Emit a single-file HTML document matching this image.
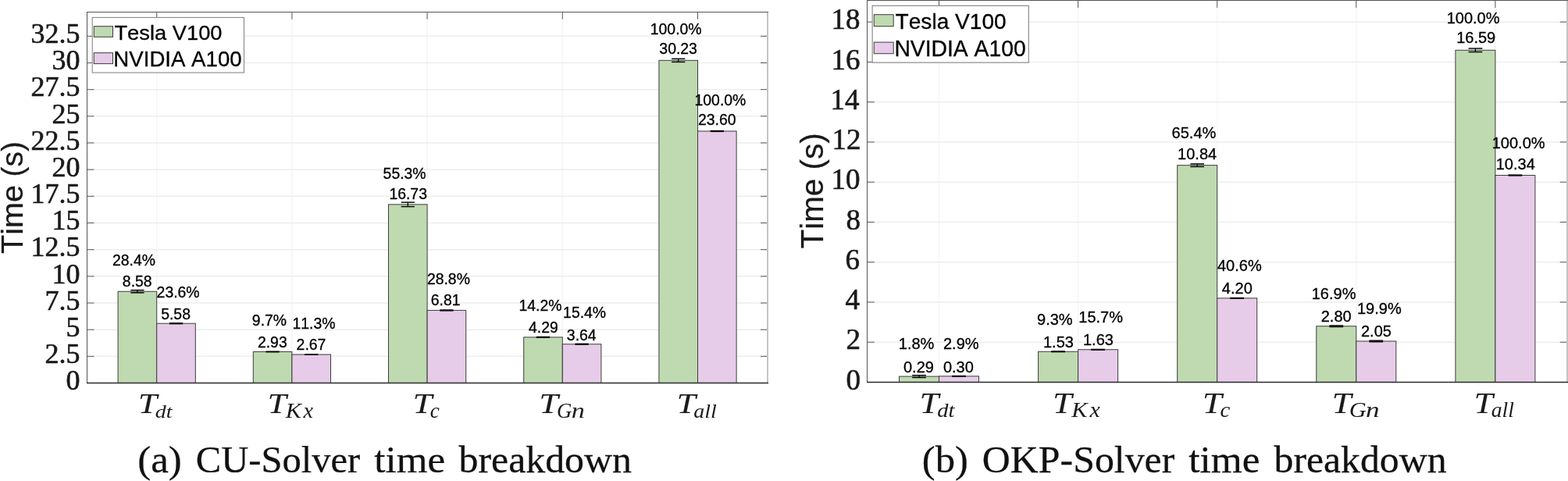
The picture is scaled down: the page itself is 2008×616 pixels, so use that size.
<!DOCTYPE html>
<html><head><meta charset="utf-8"><title>Solver time breakdown</title>
<style>html,body{margin:0;padding:0;background:#fff;overflow:hidden}svg{display:block}</style></head>
<body>
<svg width="2008" height="616" viewBox="0 0 2008 616">
<rect width="2008" height="616" fill="#fff"/>
<line x1="200.70" y1="15.50" x2="200.70" y2="490.50" stroke="#f5f5f5" stroke-width="1.5"/>
<line x1="373.90" y1="15.50" x2="373.90" y2="490.50" stroke="#f5f5f5" stroke-width="1.5"/>
<line x1="547.10" y1="15.50" x2="547.10" y2="490.50" stroke="#f5f5f5" stroke-width="1.5"/>
<line x1="720.30" y1="15.50" x2="720.30" y2="490.50" stroke="#f5f5f5" stroke-width="1.5"/>
<line x1="893.50" y1="15.50" x2="893.50" y2="490.50" stroke="#f5f5f5" stroke-width="1.5"/>
<line x1="111.50" y1="456.33" x2="983.00" y2="456.33" stroke="#ededed" stroke-width="1.5"/>
<line x1="111.50" y1="422.17" x2="983.00" y2="422.17" stroke="#ededed" stroke-width="1.5"/>
<line x1="111.50" y1="388.00" x2="983.00" y2="388.00" stroke="#ededed" stroke-width="1.5"/>
<line x1="111.50" y1="353.83" x2="983.00" y2="353.83" stroke="#ededed" stroke-width="1.5"/>
<line x1="111.50" y1="319.66" x2="983.00" y2="319.66" stroke="#ededed" stroke-width="1.5"/>
<line x1="111.50" y1="285.50" x2="983.00" y2="285.50" stroke="#ededed" stroke-width="1.5"/>
<line x1="111.50" y1="251.33" x2="983.00" y2="251.33" stroke="#ededed" stroke-width="1.5"/>
<line x1="111.50" y1="217.16" x2="983.00" y2="217.16" stroke="#ededed" stroke-width="1.5"/>
<line x1="111.50" y1="182.99" x2="983.00" y2="182.99" stroke="#ededed" stroke-width="1.5"/>
<line x1="111.50" y1="148.82" x2="983.00" y2="148.82" stroke="#ededed" stroke-width="1.5"/>
<line x1="111.50" y1="114.66" x2="983.00" y2="114.66" stroke="#ededed" stroke-width="1.5"/>
<line x1="111.50" y1="80.49" x2="983.00" y2="80.49" stroke="#ededed" stroke-width="1.5"/>
<line x1="111.50" y1="46.32" x2="983.00" y2="46.32" stroke="#ededed" stroke-width="1.5"/>
<line x1="200.70" y1="15.50" x2="200.70" y2="24.70" stroke="#5a5a5a" stroke-width="1.0"/>
<line x1="373.90" y1="15.50" x2="373.90" y2="24.70" stroke="#5a5a5a" stroke-width="1.0"/>
<line x1="547.10" y1="15.50" x2="547.10" y2="24.70" stroke="#5a5a5a" stroke-width="1.0"/>
<line x1="720.30" y1="15.50" x2="720.30" y2="24.70" stroke="#5a5a5a" stroke-width="1.0"/>
<line x1="893.50" y1="15.50" x2="893.50" y2="24.70" stroke="#5a5a5a" stroke-width="1.0"/>
<line x1="111.50" y1="456.33" x2="120.50" y2="456.33" stroke="#5a5a5a" stroke-width="1.0"/>
<line x1="974.00" y1="456.33" x2="983.00" y2="456.33" stroke="#5a5a5a" stroke-width="1.0"/>
<line x1="111.50" y1="422.17" x2="120.50" y2="422.17" stroke="#5a5a5a" stroke-width="1.0"/>
<line x1="974.00" y1="422.17" x2="983.00" y2="422.17" stroke="#5a5a5a" stroke-width="1.0"/>
<line x1="111.50" y1="388.00" x2="120.50" y2="388.00" stroke="#5a5a5a" stroke-width="1.0"/>
<line x1="974.00" y1="388.00" x2="983.00" y2="388.00" stroke="#5a5a5a" stroke-width="1.0"/>
<line x1="111.50" y1="353.83" x2="120.50" y2="353.83" stroke="#5a5a5a" stroke-width="1.0"/>
<line x1="974.00" y1="353.83" x2="983.00" y2="353.83" stroke="#5a5a5a" stroke-width="1.0"/>
<line x1="111.50" y1="319.66" x2="120.50" y2="319.66" stroke="#5a5a5a" stroke-width="1.0"/>
<line x1="974.00" y1="319.66" x2="983.00" y2="319.66" stroke="#5a5a5a" stroke-width="1.0"/>
<line x1="111.50" y1="285.50" x2="120.50" y2="285.50" stroke="#5a5a5a" stroke-width="1.0"/>
<line x1="974.00" y1="285.50" x2="983.00" y2="285.50" stroke="#5a5a5a" stroke-width="1.0"/>
<line x1="111.50" y1="251.33" x2="120.50" y2="251.33" stroke="#5a5a5a" stroke-width="1.0"/>
<line x1="974.00" y1="251.33" x2="983.00" y2="251.33" stroke="#5a5a5a" stroke-width="1.0"/>
<line x1="111.50" y1="217.16" x2="120.50" y2="217.16" stroke="#5a5a5a" stroke-width="1.0"/>
<line x1="974.00" y1="217.16" x2="983.00" y2="217.16" stroke="#5a5a5a" stroke-width="1.0"/>
<line x1="111.50" y1="182.99" x2="120.50" y2="182.99" stroke="#5a5a5a" stroke-width="1.0"/>
<line x1="974.00" y1="182.99" x2="983.00" y2="182.99" stroke="#5a5a5a" stroke-width="1.0"/>
<line x1="111.50" y1="148.82" x2="120.50" y2="148.82" stroke="#5a5a5a" stroke-width="1.0"/>
<line x1="974.00" y1="148.82" x2="983.00" y2="148.82" stroke="#5a5a5a" stroke-width="1.0"/>
<line x1="111.50" y1="114.66" x2="120.50" y2="114.66" stroke="#5a5a5a" stroke-width="1.0"/>
<line x1="974.00" y1="114.66" x2="983.00" y2="114.66" stroke="#5a5a5a" stroke-width="1.0"/>
<line x1="111.50" y1="80.49" x2="120.50" y2="80.49" stroke="#5a5a5a" stroke-width="1.0"/>
<line x1="974.00" y1="80.49" x2="983.00" y2="80.49" stroke="#5a5a5a" stroke-width="1.0"/>
<line x1="111.50" y1="46.32" x2="120.50" y2="46.32" stroke="#5a5a5a" stroke-width="1.0"/>
<line x1="974.00" y1="46.32" x2="983.00" y2="46.32" stroke="#5a5a5a" stroke-width="1.0"/>
<line x1="983.00" y1="15.50" x2="983.00" y2="490.50" stroke="#c4c4c4" stroke-width="2"/>
<rect x="151.10" y="373.24" width="49.60" height="117.26" fill="#bfdab1" stroke="#3c3c3c" stroke-width="1"/>
<rect x="200.70" y="414.24" width="49.60" height="76.26" fill="#e6cce8" stroke="#3c3c3c" stroke-width="1"/>
<line x1="175.90" y1="371.60" x2="175.90" y2="374.88" stroke="#0a0a0a" stroke-width="1.3"/>
<line x1="167.30" y1="371.60" x2="184.50" y2="371.60" stroke="#0a0a0a" stroke-width="1.5"/>
<line x1="167.30" y1="374.88" x2="184.50" y2="374.88" stroke="#0a0a0a" stroke-width="1.5"/>
<line x1="225.50" y1="413.83" x2="225.50" y2="414.65" stroke="#0a0a0a" stroke-width="1.3"/>
<line x1="216.90" y1="413.83" x2="234.10" y2="413.83" stroke="#0a0a0a" stroke-width="1.5"/>
<line x1="216.90" y1="414.65" x2="234.10" y2="414.65" stroke="#0a0a0a" stroke-width="1.5"/>
<rect x="324.30" y="450.46" width="49.60" height="40.04" fill="#bfdab1" stroke="#3c3c3c" stroke-width="1"/>
<rect x="373.90" y="454.01" width="49.60" height="36.49" fill="#e6cce8" stroke="#3c3c3c" stroke-width="1"/>
<line x1="349.10" y1="450.18" x2="349.10" y2="450.73" stroke="#0a0a0a" stroke-width="1.3"/>
<line x1="340.50" y1="450.18" x2="357.70" y2="450.18" stroke="#0a0a0a" stroke-width="1.5"/>
<line x1="340.50" y1="450.73" x2="357.70" y2="450.73" stroke="#0a0a0a" stroke-width="1.5"/>
<line x1="398.70" y1="453.74" x2="398.70" y2="454.28" stroke="#0a0a0a" stroke-width="1.3"/>
<line x1="390.10" y1="453.74" x2="407.30" y2="453.74" stroke="#0a0a0a" stroke-width="1.5"/>
<line x1="390.10" y1="454.28" x2="407.30" y2="454.28" stroke="#0a0a0a" stroke-width="1.5"/>
<rect x="497.50" y="261.85" width="49.60" height="228.65" fill="#bfdab1" stroke="#3c3c3c" stroke-width="1"/>
<rect x="547.10" y="397.43" width="49.60" height="93.07" fill="#e6cce8" stroke="#3c3c3c" stroke-width="1"/>
<line x1="522.30" y1="259.12" x2="522.30" y2="264.58" stroke="#0a0a0a" stroke-width="1.3"/>
<line x1="513.70" y1="259.12" x2="530.90" y2="259.12" stroke="#0a0a0a" stroke-width="1.5"/>
<line x1="513.70" y1="264.58" x2="530.90" y2="264.58" stroke="#0a0a0a" stroke-width="1.5"/>
<line x1="571.90" y1="397.02" x2="571.90" y2="397.84" stroke="#0a0a0a" stroke-width="1.3"/>
<line x1="563.30" y1="397.02" x2="580.50" y2="397.02" stroke="#0a0a0a" stroke-width="1.5"/>
<line x1="563.30" y1="397.84" x2="580.50" y2="397.84" stroke="#0a0a0a" stroke-width="1.5"/>
<rect x="670.70" y="431.87" width="49.60" height="58.63" fill="#bfdab1" stroke="#3c3c3c" stroke-width="1"/>
<rect x="720.30" y="440.75" width="49.60" height="49.75" fill="#e6cce8" stroke="#3c3c3c" stroke-width="1"/>
<line x1="695.50" y1="431.46" x2="695.50" y2="432.28" stroke="#0a0a0a" stroke-width="1.3"/>
<line x1="686.90" y1="431.46" x2="704.10" y2="431.46" stroke="#0a0a0a" stroke-width="1.5"/>
<line x1="686.90" y1="432.28" x2="704.10" y2="432.28" stroke="#0a0a0a" stroke-width="1.5"/>
<line x1="745.10" y1="440.34" x2="745.10" y2="441.16" stroke="#0a0a0a" stroke-width="1.3"/>
<line x1="736.50" y1="440.34" x2="753.70" y2="440.34" stroke="#0a0a0a" stroke-width="1.5"/>
<line x1="736.50" y1="441.16" x2="753.70" y2="441.16" stroke="#0a0a0a" stroke-width="1.5"/>
<rect x="843.90" y="77.35" width="49.60" height="413.15" fill="#bfdab1" stroke="#3c3c3c" stroke-width="1"/>
<rect x="893.50" y="167.96" width="49.60" height="322.54" fill="#e6cce8" stroke="#3c3c3c" stroke-width="1"/>
<line x1="868.70" y1="75.30" x2="868.70" y2="79.40" stroke="#0a0a0a" stroke-width="1.3"/>
<line x1="860.10" y1="75.30" x2="877.30" y2="75.30" stroke="#0a0a0a" stroke-width="1.5"/>
<line x1="860.10" y1="79.40" x2="877.30" y2="79.40" stroke="#0a0a0a" stroke-width="1.5"/>
<line x1="918.30" y1="167.55" x2="918.30" y2="168.37" stroke="#0a0a0a" stroke-width="1.3"/>
<line x1="909.70" y1="167.55" x2="926.90" y2="167.55" stroke="#0a0a0a" stroke-width="1.5"/>
<line x1="909.70" y1="168.37" x2="926.90" y2="168.37" stroke="#0a0a0a" stroke-width="1.5"/>
<line x1="111.50" y1="15.00" x2="111.50" y2="491.00" stroke="#555555" stroke-width="1.0"/>
<line x1="111.50" y1="15.50" x2="984.00" y2="15.50" stroke="#555555" stroke-width="1.0"/>
<line x1="111.00" y1="490.50" x2="984.00" y2="490.50" stroke="#2a2a2a" stroke-width="1.3"/>
<line x1="1202.50" y1="0.50" x2="1202.50" y2="489.50" stroke="#f5f5f5" stroke-width="1.5"/>
<line x1="1380.60" y1="0.50" x2="1380.60" y2="489.50" stroke="#f5f5f5" stroke-width="1.5"/>
<line x1="1558.70" y1="0.50" x2="1558.70" y2="489.50" stroke="#f5f5f5" stroke-width="1.5"/>
<line x1="1736.80" y1="0.50" x2="1736.80" y2="489.50" stroke="#f5f5f5" stroke-width="1.5"/>
<line x1="1914.90" y1="0.50" x2="1914.90" y2="489.50" stroke="#f5f5f5" stroke-width="1.5"/>
<line x1="1110.50" y1="438.24" x2="2007.00" y2="438.24" stroke="#ededed" stroke-width="1.5"/>
<line x1="1110.50" y1="386.98" x2="2007.00" y2="386.98" stroke="#ededed" stroke-width="1.5"/>
<line x1="1110.50" y1="335.72" x2="2007.00" y2="335.72" stroke="#ededed" stroke-width="1.5"/>
<line x1="1110.50" y1="284.46" x2="2007.00" y2="284.46" stroke="#ededed" stroke-width="1.5"/>
<line x1="1110.50" y1="233.20" x2="2007.00" y2="233.20" stroke="#ededed" stroke-width="1.5"/>
<line x1="1110.50" y1="181.94" x2="2007.00" y2="181.94" stroke="#ededed" stroke-width="1.5"/>
<line x1="1110.50" y1="130.68" x2="2007.00" y2="130.68" stroke="#ededed" stroke-width="1.5"/>
<line x1="1110.50" y1="79.42" x2="2007.00" y2="79.42" stroke="#ededed" stroke-width="1.5"/>
<line x1="1110.50" y1="28.16" x2="2007.00" y2="28.16" stroke="#ededed" stroke-width="1.5"/>
<line x1="1202.50" y1="0.50" x2="1202.50" y2="9.96" stroke="#5a5a5a" stroke-width="1.0"/>
<line x1="1380.60" y1="0.50" x2="1380.60" y2="9.96" stroke="#5a5a5a" stroke-width="1.0"/>
<line x1="1558.70" y1="0.50" x2="1558.70" y2="9.96" stroke="#5a5a5a" stroke-width="1.0"/>
<line x1="1736.80" y1="0.50" x2="1736.80" y2="9.96" stroke="#5a5a5a" stroke-width="1.0"/>
<line x1="1914.90" y1="0.50" x2="1914.90" y2="9.96" stroke="#5a5a5a" stroke-width="1.0"/>
<line x1="1110.50" y1="438.24" x2="1119.76" y2="438.24" stroke="#5a5a5a" stroke-width="1.0"/>
<line x1="1997.74" y1="438.24" x2="2007.00" y2="438.24" stroke="#5a5a5a" stroke-width="1.0"/>
<line x1="1110.50" y1="386.98" x2="1119.76" y2="386.98" stroke="#5a5a5a" stroke-width="1.0"/>
<line x1="1997.74" y1="386.98" x2="2007.00" y2="386.98" stroke="#5a5a5a" stroke-width="1.0"/>
<line x1="1110.50" y1="335.72" x2="1119.76" y2="335.72" stroke="#5a5a5a" stroke-width="1.0"/>
<line x1="1997.74" y1="335.72" x2="2007.00" y2="335.72" stroke="#5a5a5a" stroke-width="1.0"/>
<line x1="1110.50" y1="284.46" x2="1119.76" y2="284.46" stroke="#5a5a5a" stroke-width="1.0"/>
<line x1="1997.74" y1="284.46" x2="2007.00" y2="284.46" stroke="#5a5a5a" stroke-width="1.0"/>
<line x1="1110.50" y1="233.20" x2="1119.76" y2="233.20" stroke="#5a5a5a" stroke-width="1.0"/>
<line x1="1997.74" y1="233.20" x2="2007.00" y2="233.20" stroke="#5a5a5a" stroke-width="1.0"/>
<line x1="1110.50" y1="181.94" x2="1119.76" y2="181.94" stroke="#5a5a5a" stroke-width="1.0"/>
<line x1="1997.74" y1="181.94" x2="2007.00" y2="181.94" stroke="#5a5a5a" stroke-width="1.0"/>
<line x1="1110.50" y1="130.68" x2="1119.76" y2="130.68" stroke="#5a5a5a" stroke-width="1.0"/>
<line x1="1997.74" y1="130.68" x2="2007.00" y2="130.68" stroke="#5a5a5a" stroke-width="1.0"/>
<line x1="1110.50" y1="79.42" x2="1119.76" y2="79.42" stroke="#5a5a5a" stroke-width="1.0"/>
<line x1="1997.74" y1="79.42" x2="2007.00" y2="79.42" stroke="#5a5a5a" stroke-width="1.0"/>
<line x1="1110.50" y1="28.16" x2="1119.76" y2="28.16" stroke="#5a5a5a" stroke-width="1.0"/>
<line x1="1997.74" y1="28.16" x2="2007.00" y2="28.16" stroke="#5a5a5a" stroke-width="1.0"/>
<line x1="2007.00" y1="0.50" x2="2007.00" y2="489.50" stroke="#c4c4c4" stroke-width="2"/>
<rect x="1151.50" y="482.07" width="51.00" height="7.43" fill="#bfdab1" stroke="#3c3c3c" stroke-width="1"/>
<rect x="1202.50" y="481.81" width="51.00" height="7.69" fill="#e6cce8" stroke="#3c3c3c" stroke-width="1"/>
<line x1="1177.00" y1="480.66" x2="1177.00" y2="483.48" stroke="#0a0a0a" stroke-width="1.3"/>
<line x1="1168.15" y1="480.66" x2="1185.85" y2="480.66" stroke="#0a0a0a" stroke-width="1.5"/>
<line x1="1168.15" y1="483.48" x2="1185.85" y2="483.48" stroke="#0a0a0a" stroke-width="1.5"/>
<line x1="1228.00" y1="481.50" x2="1228.00" y2="482.12" stroke="#0a0a0a" stroke-width="1.3"/>
<line x1="1219.15" y1="481.50" x2="1236.85" y2="481.50" stroke="#0a0a0a" stroke-width="1.5"/>
<line x1="1219.15" y1="482.12" x2="1236.85" y2="482.12" stroke="#0a0a0a" stroke-width="1.5"/>
<rect x="1329.60" y="450.29" width="51.00" height="39.21" fill="#bfdab1" stroke="#3c3c3c" stroke-width="1"/>
<rect x="1380.60" y="447.72" width="51.00" height="41.78" fill="#e6cce8" stroke="#3c3c3c" stroke-width="1"/>
<line x1="1355.10" y1="449.98" x2="1355.10" y2="450.59" stroke="#0a0a0a" stroke-width="1.3"/>
<line x1="1346.25" y1="449.98" x2="1363.95" y2="449.98" stroke="#0a0a0a" stroke-width="1.5"/>
<line x1="1346.25" y1="450.59" x2="1363.95" y2="450.59" stroke="#0a0a0a" stroke-width="1.5"/>
<line x1="1406.10" y1="447.42" x2="1406.10" y2="448.03" stroke="#0a0a0a" stroke-width="1.3"/>
<line x1="1397.25" y1="447.42" x2="1414.95" y2="447.42" stroke="#0a0a0a" stroke-width="1.5"/>
<line x1="1397.25" y1="448.03" x2="1414.95" y2="448.03" stroke="#0a0a0a" stroke-width="1.5"/>
<rect x="1507.70" y="211.67" width="51.00" height="277.83" fill="#bfdab1" stroke="#3c3c3c" stroke-width="1"/>
<rect x="1558.70" y="381.85" width="51.00" height="107.65" fill="#e6cce8" stroke="#3c3c3c" stroke-width="1"/>
<line x1="1533.20" y1="209.88" x2="1533.20" y2="213.46" stroke="#0a0a0a" stroke-width="1.3"/>
<line x1="1524.35" y1="209.88" x2="1542.05" y2="209.88" stroke="#0a0a0a" stroke-width="1.5"/>
<line x1="1524.35" y1="213.46" x2="1542.05" y2="213.46" stroke="#0a0a0a" stroke-width="1.5"/>
<line x1="1584.20" y1="381.55" x2="1584.20" y2="382.16" stroke="#0a0a0a" stroke-width="1.3"/>
<line x1="1575.35" y1="381.55" x2="1593.05" y2="381.55" stroke="#0a0a0a" stroke-width="1.5"/>
<line x1="1575.35" y1="382.16" x2="1593.05" y2="382.16" stroke="#0a0a0a" stroke-width="1.5"/>
<rect x="1685.80" y="417.74" width="51.00" height="71.76" fill="#bfdab1" stroke="#3c3c3c" stroke-width="1"/>
<rect x="1736.80" y="436.96" width="51.00" height="52.54" fill="#e6cce8" stroke="#3c3c3c" stroke-width="1"/>
<line x1="1711.30" y1="416.97" x2="1711.30" y2="418.50" stroke="#0a0a0a" stroke-width="1.3"/>
<line x1="1702.45" y1="416.97" x2="1720.15" y2="416.97" stroke="#0a0a0a" stroke-width="1.5"/>
<line x1="1702.45" y1="418.50" x2="1720.15" y2="418.50" stroke="#0a0a0a" stroke-width="1.5"/>
<line x1="1762.30" y1="436.19" x2="1762.30" y2="437.73" stroke="#0a0a0a" stroke-width="1.3"/>
<line x1="1753.45" y1="436.19" x2="1771.15" y2="436.19" stroke="#0a0a0a" stroke-width="1.5"/>
<line x1="1753.45" y1="437.73" x2="1771.15" y2="437.73" stroke="#0a0a0a" stroke-width="1.5"/>
<rect x="1863.90" y="64.30" width="51.00" height="425.20" fill="#bfdab1" stroke="#3c3c3c" stroke-width="1"/>
<rect x="1914.90" y="224.49" width="51.00" height="265.01" fill="#e6cce8" stroke="#3c3c3c" stroke-width="1"/>
<line x1="1889.40" y1="62.04" x2="1889.40" y2="66.55" stroke="#0a0a0a" stroke-width="1.3"/>
<line x1="1880.55" y1="62.04" x2="1898.25" y2="62.04" stroke="#0a0a0a" stroke-width="1.5"/>
<line x1="1880.55" y1="66.55" x2="1898.25" y2="66.55" stroke="#0a0a0a" stroke-width="1.5"/>
<line x1="1940.40" y1="224.10" x2="1940.40" y2="224.87" stroke="#0a0a0a" stroke-width="1.3"/>
<line x1="1931.55" y1="224.10" x2="1949.25" y2="224.10" stroke="#0a0a0a" stroke-width="1.5"/>
<line x1="1931.55" y1="224.87" x2="1949.25" y2="224.87" stroke="#0a0a0a" stroke-width="1.5"/>
<line x1="1110.50" y1="0.00" x2="1110.50" y2="490.00" stroke="#555555" stroke-width="1.0"/>
<line x1="1110.50" y1="0.50" x2="2008.00" y2="0.50" stroke="#555555" stroke-width="1.0"/>
<line x1="1110.00" y1="489.50" x2="2008.00" y2="489.50" stroke="#2a2a2a" stroke-width="1.3"/>
<rect x="118.20" y="22.40" width="194.30" height="70.60" fill="#ffffff" stroke="#888888" stroke-width="1.1"/>
<rect x="120.30" y="33.70" width="24.20" height="13.60" fill="#bfdab1" stroke="#3c3c3c" stroke-width="1"/>
<rect x="120.30" y="67.70" width="24.20" height="13.90" fill="#e6cce8" stroke="#3c3c3c" stroke-width="1"/>
<rect x="1117.10" y="7.30" width="200.20" height="72.80" fill="#ffffff" stroke="#808080" stroke-width="1.1"/>
<rect x="1119.30" y="18.70" width="24.90" height="14.90" fill="#bfdab1" stroke="#3c3c3c" stroke-width="1"/>
<rect x="1119.30" y="54.10" width="24.90" height="14.60" fill="#e6cce8" stroke="#3c3c3c" stroke-width="1"/>
<text transform='translate(146.40,50.60) scale(1.0044,0.9500)' font-family='"Liberation Sans", sans-serif' font-size='27.2' font-style='normal' fill='#000' stroke='#000' stroke-width='0.3' style='font-kerning:none'>Tesla V100</text>
<text transform='translate(145.37,85.30) scale(1.0157,1.0000)' font-family='"Liberation Sans", sans-serif' font-size='27.2' font-style='normal' fill='#000' stroke='#000' stroke-width='0.3' style='font-kerning:none'>NVIDIA A100</text>
<text transform='translate(1146.60,36.50) scale(1.0028,0.9850)' font-family='"Liberation Sans", sans-serif' font-size='28' font-style='normal' fill='#000' stroke='#000' stroke-width='0.3' style='font-kerning:none'>Tesla V100</text>
<text transform='translate(1145.38,72.30) scale(1.0110,1.0368)' font-family='"Liberation Sans", sans-serif' font-size='28' font-style='normal' fill='#000' stroke='#000' stroke-width='0.3' style='font-kerning:none'>NVIDIA A100</text>
<text transform='translate(84.60,499.30) scale(1.0000,1.0000)' font-family='"Liberation Serif", serif' font-size='36' font-style='normal' fill='#1a1a1a' stroke='#1a1a1a' stroke-width='0.6'>0</text>
<text transform='translate(57.60,465.13) scale(1.0000,1.0000)' font-family='"Liberation Serif", serif' font-size='36' font-style='normal' fill='#1a1a1a' stroke='#1a1a1a' stroke-width='0.6'>2.5</text>
<text transform='translate(84.60,430.97) scale(1.0000,1.0000)' font-family='"Liberation Serif", serif' font-size='36' font-style='normal' fill='#1a1a1a' stroke='#1a1a1a' stroke-width='0.6'>5</text>
<text transform='translate(57.60,396.80) scale(1.0000,1.0000)' font-family='"Liberation Serif", serif' font-size='36' font-style='normal' fill='#1a1a1a' stroke='#1a1a1a' stroke-width='0.6'>7.5</text>
<text transform='translate(66.60,362.63) scale(1.0000,1.0000)' font-family='"Liberation Serif", serif' font-size='36' font-style='normal' fill='#1a1a1a' stroke='#1a1a1a' stroke-width='0.6'>10</text>
<text transform='translate(39.60,328.46) scale(1.0000,1.0000)' font-family='"Liberation Serif", serif' font-size='36' font-style='normal' fill='#1a1a1a' stroke='#1a1a1a' stroke-width='0.6'>12.5</text>
<text transform='translate(66.60,294.30) scale(1.0000,1.0000)' font-family='"Liberation Serif", serif' font-size='36' font-style='normal' fill='#1a1a1a' stroke='#1a1a1a' stroke-width='0.6'>15</text>
<text transform='translate(39.60,260.13) scale(1.0000,1.0000)' font-family='"Liberation Serif", serif' font-size='36' font-style='normal' fill='#1a1a1a' stroke='#1a1a1a' stroke-width='0.6'>17.5</text>
<text transform='translate(66.60,225.96) scale(1.0000,1.0000)' font-family='"Liberation Serif", serif' font-size='36' font-style='normal' fill='#1a1a1a' stroke='#1a1a1a' stroke-width='0.6'>20</text>
<text transform='translate(39.60,191.79) scale(1.0000,1.0000)' font-family='"Liberation Serif", serif' font-size='36' font-style='normal' fill='#1a1a1a' stroke='#1a1a1a' stroke-width='0.6'>22.5</text>
<text transform='translate(66.60,157.62) scale(1.0000,1.0000)' font-family='"Liberation Serif", serif' font-size='36' font-style='normal' fill='#1a1a1a' stroke='#1a1a1a' stroke-width='0.6'>25</text>
<text transform='translate(39.60,123.46) scale(1.0000,1.0000)' font-family='"Liberation Serif", serif' font-size='36' font-style='normal' fill='#1a1a1a' stroke='#1a1a1a' stroke-width='0.6'>27.5</text>
<text transform='translate(66.60,89.29) scale(1.0000,1.0000)' font-family='"Liberation Serif", serif' font-size='36' font-style='normal' fill='#1a1a1a' stroke='#1a1a1a' stroke-width='0.6'>30</text>
<text transform='translate(39.60,55.12) scale(1.0000,1.0000)' font-family='"Liberation Serif", serif' font-size='36' font-style='normal' fill='#1a1a1a' stroke='#1a1a1a' stroke-width='0.6'>32.5</text>
<text transform='translate(1083.50,498.70) scale(1.0000,1.0000)' font-family='"Liberation Serif", serif' font-size='37' font-style='normal' fill='#1a1a1a' stroke='#1a1a1a' stroke-width='0.6'>0</text>
<text transform='translate(1083.50,447.44) scale(1.0000,1.0000)' font-family='"Liberation Serif", serif' font-size='37' font-style='normal' fill='#1a1a1a' stroke='#1a1a1a' stroke-width='0.6'>2</text>
<text transform='translate(1082.50,396.18) scale(1.0000,1.0000)' font-family='"Liberation Serif", serif' font-size='37' font-style='normal' fill='#1a1a1a' stroke='#1a1a1a' stroke-width='0.6'>4</text>
<text transform='translate(1082.50,344.92) scale(1.0000,1.0000)' font-family='"Liberation Serif", serif' font-size='37' font-style='normal' fill='#1a1a1a' stroke='#1a1a1a' stroke-width='0.6'>6</text>
<text transform='translate(1083.50,293.66) scale(1.0000,1.0000)' font-family='"Liberation Serif", serif' font-size='37' font-style='normal' fill='#1a1a1a' stroke='#1a1a1a' stroke-width='0.6'>8</text>
<text transform='translate(1064.50,242.40) scale(1.0000,1.0000)' font-family='"Liberation Serif", serif' font-size='37' font-style='normal' fill='#1a1a1a' stroke='#1a1a1a' stroke-width='0.6'>10</text>
<text transform='translate(1065.50,191.14) scale(1.0000,1.0000)' font-family='"Liberation Serif", serif' font-size='37' font-style='normal' fill='#1a1a1a' stroke='#1a1a1a' stroke-width='0.6'>12</text>
<text transform='translate(1063.50,139.88) scale(1.0000,1.0000)' font-family='"Liberation Serif", serif' font-size='37' font-style='normal' fill='#1a1a1a' stroke='#1a1a1a' stroke-width='0.6'>14</text>
<text transform='translate(1064.50,88.62) scale(1.0000,1.0000)' font-family='"Liberation Serif", serif' font-size='37' font-style='normal' fill='#1a1a1a' stroke='#1a1a1a' stroke-width='0.6'>16</text>
<text transform='translate(1064.50,37.36) scale(1.0000,1.0000)' font-family='"Liberation Serif", serif' font-size='37' font-style='normal' fill='#1a1a1a' stroke='#1a1a1a' stroke-width='0.6'>18</text>
<text transform='translate(176.90,529.10) scale(1.1524,0.9800)' font-family='"Liberation Serif", serif' font-size='37.6' font-style='italic' fill='#1a1a1a' stroke='#1a1a1a' stroke-width='0.15'>T</text>
<text transform='translate(198.87,534.60) scale(1.0350,0.8579)' font-family='"Liberation Serif", serif' font-size='27' font-style='italic' fill='#1a1a1a' stroke='#1a1a1a' stroke-width='0.0'>dt</text>
<text transform='translate(342.80,529.10) scale(1.1476,0.9800)' font-family='"Liberation Serif", serif' font-size='37.6' font-style='italic' fill='#1a1a1a' stroke='#1a1a1a' stroke-width='0.15'>T</text>
<text transform='translate(365.80,534.60) scale(1.1211,0.9778)' font-family='"Liberation Serif", serif' font-size='27' font-style='italic' fill='#1a1a1a' stroke='#1a1a1a' stroke-width='0.0'>K</text>
<text transform='translate(388.40,534.60) scale(1.0500,1.0000)' font-family='"Liberation Serif", serif' font-size='27' font-style='italic' fill='#1a1a1a' stroke='#1a1a1a' stroke-width='0.0'>x</text>
<text transform='translate(528.76,529.10) scale(1.1714,0.9800)' font-family='"Liberation Serif", serif' font-size='37.6' font-style='italic' fill='#1a1a1a' stroke='#1a1a1a' stroke-width='0.15'>T</text>
<text transform='translate(550.80,534.60) scale(1.0000,1.0000)' font-family='"Liberation Serif", serif' font-size='27' font-style='italic' fill='#1a1a1a' stroke='#1a1a1a' stroke-width='0.0'>c</text>
<text transform='translate(690.48,529.10) scale(1.1619,0.9800)' font-family='"Liberation Serif", serif' font-size='37.6' font-style='italic' fill='#1a1a1a' stroke='#1a1a1a' stroke-width='0.15'>T</text>
<text transform='translate(712.91,534.60) scale(0.9944,1.0000)' font-family='"Liberation Serif", serif' font-size='27' font-style='italic' fill='#1a1a1a' stroke='#1a1a1a' stroke-width='0.0'>G</text>
<text transform='translate(731.84,534.60) scale(1.2636,1.0000)' font-family='"Liberation Serif", serif' font-size='27' font-style='italic' fill='#1a1a1a' stroke='#1a1a1a' stroke-width='0.0'>n</text>
<text transform='translate(866.70,529.10) scale(1.1524,0.9800)' font-family='"Liberation Serif", serif' font-size='37.6' font-style='italic' fill='#1a1a1a' stroke='#1a1a1a' stroke-width='0.15'>T</text>
<text transform='translate(888.27,534.60) scale(1.0333,0.9263)' font-family='"Liberation Serif", serif' font-size='27' font-style='italic' fill='#1a1a1a' stroke='#1a1a1a' stroke-width='0.0'>all</text>
<text transform='translate(1177.83,528.80) scale(1.1364,1.0040)' font-family='"Liberation Serif", serif' font-size='38.6' font-style='italic' fill='#1a1a1a' stroke='#1a1a1a' stroke-width='0.15'>T</text>
<text transform='translate(1200.17,534.30) scale(1.0286,0.9000)' font-family='"Liberation Serif", serif' font-size='27.8' font-style='italic' fill='#1a1a1a' stroke='#1a1a1a' stroke-width='0.0'>dt</text>
<text transform='translate(1348.33,528.80) scale(1.1364,1.0040)' font-family='"Liberation Serif", serif' font-size='38.6' font-style='italic' fill='#1a1a1a' stroke='#1a1a1a' stroke-width='0.15'>T</text>
<text transform='translate(1372.30,534.30) scale(1.0950,1.0000)' font-family='"Liberation Serif", serif' font-size='27.8' font-style='italic' fill='#1a1a1a' stroke='#1a1a1a' stroke-width='0.0'>K</text>
<text transform='translate(1395.50,534.30) scale(1.0833,1.0000)' font-family='"Liberation Serif", serif' font-size='27.8' font-style='italic' fill='#1a1a1a' stroke='#1a1a1a' stroke-width='0.0'>x</text>
<text transform='translate(1539.90,528.80) scale(1.1500,1.0040)' font-family='"Liberation Serif", serif' font-size='38.6' font-style='italic' fill='#1a1a1a' stroke='#1a1a1a' stroke-width='0.15'>T</text>
<text transform='translate(1562.46,534.30) scale(1.0364,1.0000)' font-family='"Liberation Serif", serif' font-size='27.8' font-style='italic' fill='#1a1a1a' stroke='#1a1a1a' stroke-width='0.0'>c</text>
<text transform='translate(1705.80,528.80) scale(1.1500,1.0040)' font-family='"Liberation Serif", serif' font-size='38.6' font-style='italic' fill='#1a1a1a' stroke='#1a1a1a' stroke-width='0.15'>T</text>
<text transform='translate(1727.71,534.30) scale(1.0941,1.0000)' font-family='"Liberation Serif", serif' font-size='27.8' font-style='italic' fill='#1a1a1a' stroke='#1a1a1a' stroke-width='0.0'>G</text>
<text transform='translate(1748.94,534.30) scale(1.2636,1.0000)' font-family='"Liberation Serif", serif' font-size='27.8' font-style='italic' fill='#1a1a1a' stroke='#1a1a1a' stroke-width='0.0'>n</text>
<text transform='translate(1887.75,528.80) scale(1.1227,1.0040)' font-family='"Liberation Serif", serif' font-size='38.6' font-style='italic' fill='#1a1a1a' stroke='#1a1a1a' stroke-width='0.15'>T</text>
<text transform='translate(1909.81,534.30) scale(0.9929,0.9474)' font-family='"Liberation Serif", serif' font-size='27.8' font-style='italic' fill='#1a1a1a' stroke='#1a1a1a' stroke-width='0.0'>all</text>
<text transform='translate(176.20,604.50) scale(1.0500,1.0000)' font-family='"Liberation Serif", serif' font-size='48.5' font-style='normal' fill='#111' stroke='#111' stroke-width='0.25'>(a)</text>
<text transform='translate(250.80,604.50) scale(1.0010,1.0000)' font-family='"Liberation Serif", serif' font-size='48.5' font-style='normal' fill='#111' stroke='#111' stroke-width='0.25'>CU-Solver</text>
<text transform='translate(479.20,604.50) scale(1.0553,1.0000)' font-family='"Liberation Serif", serif' font-size='48.5' font-style='normal' fill='#111' stroke='#111' stroke-width='0.25'>time</text>
<text transform='translate(587.50,604.50) scale(1.0279,1.0000)' font-family='"Liberation Serif", serif' font-size='48.5' font-style='normal' fill='#111' stroke='#111' stroke-width='0.25'>breakdown</text>
<text transform='translate(1180.81,604.50) scale(1.0434,1.0000)' font-family='"Liberation Serif", serif' font-size='48.5' font-style='normal' fill='#111' stroke='#111' stroke-width='0.25'>(b)</text>
<text transform='translate(1257.84,604.50) scale(1.0282,1.0000)' font-family='"Liberation Serif", serif' font-size='48.5' font-style='normal' fill='#111' stroke='#111' stroke-width='0.25'>OKP-Solver</text>
<text transform='translate(1522.30,604.50) scale(1.0600,1.0000)' font-family='"Liberation Serif", serif' font-size='48.5' font-style='normal' fill='#111' stroke='#111' stroke-width='0.25'>time</text>
<text transform='translate(1631.50,604.50) scale(1.0260,1.0000)' font-family='"Liberation Serif", serif' font-size='48.5' font-style='normal' fill='#111' stroke='#111' stroke-width='0.25'>breakdown</text>
<text transform='translate(143.95,339.80) scale(1.0000,1.0000)' font-family='"Liberation Sans", sans-serif' font-size='19.4' font-style='normal' fill='#000' stroke='#000' stroke-width='0.3' style='font-kerning:none'>28.4%</text>
<text transform='translate(156.85,367.10) scale(1.0000,1.0000)' font-family='"Liberation Sans", sans-serif' font-size='19.4' font-style='normal' fill='#000' stroke='#000' stroke-width='0.3' style='font-kerning:none'>8.58</text>
<text transform='translate(200.60,380.90) scale(1.0000,1.0000)' font-family='"Liberation Sans", sans-serif' font-size='19.4' font-style='normal' fill='#000' stroke='#000' stroke-width='0.3' style='font-kerning:none'>23.6%</text>
<text transform='translate(206.20,408.50) scale(1.0000,1.0000)' font-family='"Liberation Sans", sans-serif' font-size='19.4' font-style='normal' fill='#000' stroke='#000' stroke-width='0.3' style='font-kerning:none'>5.58</text>
<text transform='translate(322.85,417.30) scale(1.0000,1.0000)' font-family='"Liberation Sans", sans-serif' font-size='19.4' font-style='normal' fill='#000' stroke='#000' stroke-width='0.3' style='font-kerning:none'>9.7%</text>
<text transform='translate(329.95,445.20) scale(1.0000,1.0000)' font-family='"Liberation Sans", sans-serif' font-size='19.4' font-style='normal' fill='#000' stroke='#000' stroke-width='0.3' style='font-kerning:none'>2.93</text>
<text transform='translate(374.50,421.20) scale(1.0000,1.0000)' font-family='"Liberation Sans", sans-serif' font-size='19.4' font-style='normal' fill='#000' stroke='#000' stroke-width='0.3' style='font-kerning:none'>11.3%</text>
<text transform='translate(379.60,448.40) scale(1.0000,1.0000)' font-family='"Liberation Sans", sans-serif' font-size='19.4' font-style='normal' fill='#000' stroke='#000' stroke-width='0.3' style='font-kerning:none'>2.67</text>
<text transform='translate(490.60,228.50) scale(1.0000,1.0000)' font-family='"Liberation Sans", sans-serif' font-size='19.4' font-style='normal' fill='#000' stroke='#000' stroke-width='0.3' style='font-kerning:none'>55.3%</text>
<text transform='translate(498.40,255.20) scale(1.0000,1.0000)' font-family='"Liberation Sans", sans-serif' font-size='19.4' font-style='normal' fill='#000' stroke='#000' stroke-width='0.3' style='font-kerning:none'>16.73</text>
<text transform='translate(546.90,363.90) scale(1.0000,1.0000)' font-family='"Liberation Sans", sans-serif' font-size='19.4' font-style='normal' fill='#000' stroke='#000' stroke-width='0.3' style='font-kerning:none'>28.8%</text>
<text transform='translate(551.80,391.40) scale(1.0000,1.0000)' font-family='"Liberation Sans", sans-serif' font-size='19.4' font-style='normal' fill='#000' stroke='#000' stroke-width='0.3' style='font-kerning:none'>6.81</text>
<text transform='translate(664.55,398.10) scale(1.0000,1.0000)' font-family='"Liberation Sans", sans-serif' font-size='19.4' font-style='normal' fill='#000' stroke='#000' stroke-width='0.3' style='font-kerning:none'>14.2%</text>
<text transform='translate(677.00,426.30) scale(1.0000,1.0000)' font-family='"Liberation Sans", sans-serif' font-size='19.4' font-style='normal' fill='#000' stroke='#000' stroke-width='0.3' style='font-kerning:none'>4.29</text>
<text transform='translate(721.10,407.30) scale(1.0000,1.0000)' font-family='"Liberation Sans", sans-serif' font-size='19.4' font-style='normal' fill='#000' stroke='#000' stroke-width='0.3' style='font-kerning:none'>15.4%</text>
<text transform='translate(725.85,435.50) scale(1.0000,1.0000)' font-family='"Liberation Sans", sans-serif' font-size='19.4' font-style='normal' fill='#000' stroke='#000' stroke-width='0.3' style='font-kerning:none'>3.64</text>
<text transform='translate(832.80,43.80) scale(1.0000,1.0000)' font-family='"Liberation Sans", sans-serif' font-size='19.4' font-style='normal' fill='#000' stroke='#000' stroke-width='0.3' style='font-kerning:none'>100.0%</text>
<text transform='translate(844.35,68.50) scale(1.0000,1.0000)' font-family='"Liberation Sans", sans-serif' font-size='19.4' font-style='normal' fill='#000' stroke='#000' stroke-width='0.3' style='font-kerning:none'>30.23</text>
<text transform='translate(889.55,134.60) scale(1.0000,1.0000)' font-family='"Liberation Sans", sans-serif' font-size='19.4' font-style='normal' fill='#000' stroke='#000' stroke-width='0.3' style='font-kerning:none'>100.0%</text>
<text transform='translate(893.95,159.90) scale(1.0000,1.0000)' font-family='"Liberation Sans", sans-serif' font-size='19.4' font-style='normal' fill='#000' stroke='#000' stroke-width='0.3' style='font-kerning:none'>23.60</text>
<text transform='translate(1150.80,447.30) scale(1.0000,1.0000)' font-family='"Liberation Sans", sans-serif' font-size='20' font-style='normal' fill='#000' stroke='#000' stroke-width='0.3' style='font-kerning:none'>1.8%</text>
<text transform='translate(1157.00,476.50) scale(1.0000,1.0000)' font-family='"Liberation Sans", sans-serif' font-size='20' font-style='normal' fill='#000' stroke='#000' stroke-width='0.3' style='font-kerning:none'>0.29</text>
<text transform='translate(1208.00,447.30) scale(1.0000,1.0000)' font-family='"Liberation Sans", sans-serif' font-size='20' font-style='normal' fill='#000' stroke='#000' stroke-width='0.3' style='font-kerning:none'>2.9%</text>
<text transform='translate(1207.90,476.50) scale(1.0000,1.0000)' font-family='"Liberation Sans", sans-serif' font-size='20' font-style='normal' fill='#000' stroke='#000' stroke-width='0.3' style='font-kerning:none'>0.30</text>
<text transform='translate(1328.05,415.70) scale(1.0000,1.0000)' font-family='"Liberation Sans", sans-serif' font-size='20' font-style='normal' fill='#000' stroke='#000' stroke-width='0.3' style='font-kerning:none'>9.3%</text>
<text transform='translate(1335.95,444.90) scale(1.0000,1.0000)' font-family='"Liberation Sans", sans-serif' font-size='20' font-style='normal' fill='#000' stroke='#000' stroke-width='0.3' style='font-kerning:none'>1.53</text>
<text transform='translate(1381.30,412.80) scale(1.0000,1.0000)' font-family='"Liberation Sans", sans-serif' font-size='20' font-style='normal' fill='#000' stroke='#000' stroke-width='0.3' style='font-kerning:none'>15.7%</text>
<text transform='translate(1387.00,441.70) scale(1.0000,1.0000)' font-family='"Liberation Sans", sans-serif' font-size='20' font-style='normal' fill='#000' stroke='#000' stroke-width='0.3' style='font-kerning:none'>1.63</text>
<text transform='translate(1500.60,177.00) scale(1.0000,1.0000)' font-family='"Liberation Sans", sans-serif' font-size='20' font-style='normal' fill='#000' stroke='#000' stroke-width='0.3' style='font-kerning:none'>65.4%</text>
<text transform='translate(1508.10,203.80) scale(1.0000,1.0000)' font-family='"Liberation Sans", sans-serif' font-size='20' font-style='normal' fill='#000' stroke='#000' stroke-width='0.3' style='font-kerning:none'>10.84</text>
<text transform='translate(1559.00,347.00) scale(1.0000,1.0000)' font-family='"Liberation Sans", sans-serif' font-size='20' font-style='normal' fill='#000' stroke='#000' stroke-width='0.3' style='font-kerning:none'>40.6%</text>
<text transform='translate(1564.85,375.50) scale(1.0000,1.0000)' font-family='"Liberation Sans", sans-serif' font-size='20' font-style='normal' fill='#000' stroke='#000' stroke-width='0.3' style='font-kerning:none'>4.20</text>
<text transform='translate(1679.75,382.80) scale(1.0000,1.0000)' font-family='"Liberation Sans", sans-serif' font-size='20' font-style='normal' fill='#000' stroke='#000' stroke-width='0.3' style='font-kerning:none'>16.9%</text>
<text transform='translate(1691.70,411.60) scale(1.0000,1.0000)' font-family='"Liberation Sans", sans-serif' font-size='20' font-style='normal' fill='#000' stroke='#000' stroke-width='0.3' style='font-kerning:none'>2.80</text>
<text transform='translate(1737.95,402.10) scale(1.0000,1.0000)' font-family='"Liberation Sans", sans-serif' font-size='20' font-style='normal' fill='#000' stroke='#000' stroke-width='0.3' style='font-kerning:none'>19.9%</text>
<text transform='translate(1742.95,431.00) scale(1.0000,1.0000)' font-family='"Liberation Sans", sans-serif' font-size='20' font-style='normal' fill='#000' stroke='#000' stroke-width='0.3' style='font-kerning:none'>2.05</text>
<text transform='translate(1852.65,29.70) scale(1.0000,1.0000)' font-family='"Liberation Sans", sans-serif' font-size='20' font-style='normal' fill='#000' stroke='#000' stroke-width='0.3' style='font-kerning:none'>100.0%</text>
<text transform='translate(1865.15,55.20) scale(1.0000,1.0000)' font-family='"Liberation Sans", sans-serif' font-size='20' font-style='normal' fill='#000' stroke='#000' stroke-width='0.3' style='font-kerning:none'>16.59</text>
<text transform='translate(1910.70,190.00) scale(1.0000,1.0000)' font-family='"Liberation Sans", sans-serif' font-size='20' font-style='normal' fill='#000' stroke='#000' stroke-width='0.3' style='font-kerning:none'>100.0%</text>
<text transform='translate(1915.70,216.70) scale(1.0000,1.0000)' font-family='"Liberation Sans", sans-serif' font-size='20' font-style='normal' fill='#000' stroke='#000' stroke-width='0.3' style='font-kerning:none'>10.34</text>
<text transform='translate(29.10,0) rotate(-90) translate(-325.01,0.00) scale(1.0059,1.0000)' font-family='"Liberation Sans", sans-serif' font-size='39.4' font-style='normal' fill='#1a1a1a' stroke='#1a1a1a' stroke-width='0.25' style='font-kerning:none'>Time</text>
<text transform='translate(29.10,0) rotate(-90) translate(-226.58,0.00) scale(0.9905,1.0000)' font-family='"Liberation Sans", sans-serif' font-size='39.4' font-style='normal' fill='#1a1a1a' stroke='#1a1a1a' stroke-width='0.25' style='font-kerning:none'>(s)</text>
<text transform='translate(1053.90,0) rotate(-90) translate(-318.50,0.00) scale(0.9977,1.0000)' font-family='"Liberation Sans", sans-serif' font-size='40.5' font-style='normal' fill='#1a1a1a' stroke='#1a1a1a' stroke-width='0.25' style='font-kerning:none'>Time</text>
<text transform='translate(1053.90,0) rotate(-90) translate(-217.60,0.00) scale(1.0023,1.0000)' font-family='"Liberation Sans", sans-serif' font-size='40.5' font-style='normal' fill='#1a1a1a' stroke='#1a1a1a' stroke-width='0.25' style='font-kerning:none'>(s)</text>

</svg>
</body></html>
